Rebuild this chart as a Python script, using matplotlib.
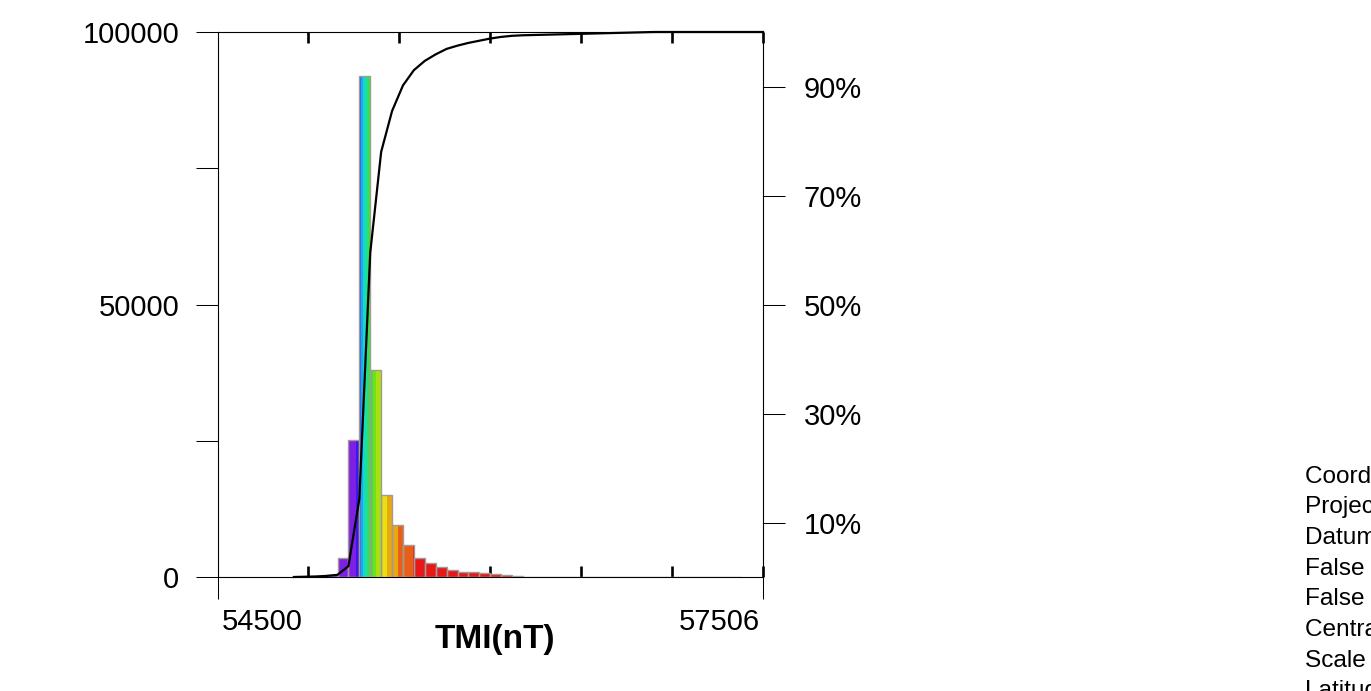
import numpy as np
import matplotlib
matplotlib.use("Agg")
import matplotlib.pyplot as plt
from matplotlib.colors import ListedColormap, BoundaryNorm
from matplotlib.transforms import ScaledTranslation

plt.rcParams['font.family'] = ['Liberation Sans', 'DejaVu Sans']

# histogram of TMI values (50 equal bins between the two limits)
x_min, x_max = 54500, 57506
n_bins = 50
counts = [0, 0, 0, 0, 0, 0, 0, 20, 40, 80,
          350, 3400, 25200, 92000, 38000, 15100, 9500, 5900, 3400, 2500,
          1900, 1300, 1000, 850, 720, 600, 420, 150, 15, 15,
          15, 15, 15, 90, 90, 85, 85, 80, 80, 75,
          75, 70, 70, 65, 65, 60, 60, 55, 0, 0]

# cumulative percentage read at bin edges 7..50
cdf_start = 7
cdf_pct = [0, 0.05, 0.1, 0.2, 0.4, 2.0, 14.3, 59.5, 78.0, 85.5,
           90.2, 93.0, 94.7, 95.9, 96.9, 97.5, 98.0, 98.4, 98.8, 99.1,
           99.3, 99.4, 99.45, 99.5, 99.55, 99.6, 99.65, 99.7, 99.75, 99.8,
           99.85, 99.9, 99.95, 100, 100, 100, 100, 100, 100, 100,
           100, 100, 100, 100]

left_ticks = [0, 25000, 50000, 75000, 100000]
left_labels = ['0', '', '50000', '', '100000']
pct_ticks = [10, 30, 50, 70, 90]
inner_ticks = [55001, 55502, 56003, 56504, 57005, 57506]

info_lines = ['Coordinate System', 'Projection', 'Datum', 'False Easting',
              'False Northing', 'Central Meridian', 'Scale Factor',
              'Latitude Of Origin']

# stepped rainbow colour scale along TMI
band_edges = [54500, 55262, 55282, 55291, 55303, 55315, 55330, 55357,
              55375, 55402, 55432, 55492, 55576, 57506]
band_colors = ['#7d1fe4', '#3c18ea', '#2a5cf0', '#1ca8f0', '#10d8d8',
               '#20e08c', '#38e048', '#70e018', '#a8e010', '#e8e010',
               '#e8a810', '#e86018', '#e81818']
cmap = ListedColormap(band_colors)
norm = BoundaryNorm(band_edges, cmap.N)

edges = np.linspace(x_min, x_max, n_bins + 1)
bw = (x_max - x_min) / n_bins

fig = plt.figure(figsize=(13.71, 6.91), dpi=100)
ax = fig.add_axes([217.5 / 1371, 114 / 691, 545.5 / 1371, 545 / 691])

sub = 16
for i, c in enumerate(counts):
    if c <= 0:
        continue
    xs = edges[i] + bw * np.arange(sub) / sub
    ax.bar(xs, c, width=bw / sub, align='edge',
           color=cmap(norm(xs + bw / sub / 2)), linewidth=0,
           antialiased=False, zorder=3)
nz = [i for i, c in enumerate(counts) if c > 0]
ax.bar(edges[nz], [counts[i] for i in nz], width=bw, align='edge',
       fill=False, edgecolor='#a39a98', linewidth=1.0, zorder=3)

ax.set_xlim(x_min, x_max)
ax.set_ylim(0, 100000)
for s in ax.spines.values():
    s.set_linewidth(0.8)

ax.set_yticks(left_ticks, left_labels)
ax.tick_params(axis='y', direction='out', length=15.5, width=0.75,
               pad=12, labelsize=21)
ax.set_xticks([x_min, x_max], ['54500', '57506'])
ax.tick_params(axis='x', which='major', direction='out', length=15.5,
               width=0.75, pad=7, labelsize=21)
ax.xaxis.remove_overlapping_locs = False
ax.set_xticks(inner_ticks, minor=True)
ax.tick_params(axis='x', which='minor', direction='in', length=8,
               width=1.9, top=True, bottom=True)
t0, t1 = ax.xaxis.get_major_ticks()[:2]
t0.label1.set_horizontalalignment('left')
t1.label1.set_horizontalalignment('right')
t0.label1.set_transform(t0.label1.get_transform()
                        + ScaledTranslation(4 / 100, 0, fig.dpi_scale_trans))
t1.label1.set_transform(t1.label1.get_transform()
                        + ScaledTranslation(-3 / 100, 0, fig.dpi_scale_trans))
ax.set_xlabel('TMI(nT)', fontsize=24, fontweight='bold', labelpad=-9)
ax.xaxis.label.set_x(0.5 + 5 / 545.5)

ax2 = ax.twinx()
ax2.set_ylim(0, 100)
for s in ax2.spines.values():
    s.set_visible(False)
ax2.plot(edges[cdf_start:], cdf_pct, color='black', linewidth=1.6,
         zorder=4, clip_on=False)
ax2.set_yticks(pct_ticks, [f'{p}%' for p in pct_ticks])
ax2.tick_params(axis='y', direction='out', length=15.5, width=0.75,
                pad=14, labelsize=21)

for i, line in enumerate(info_lines):
    fig.text(1305 / 1371, 1 - (482.5 + 30.7 * i) / 691, line,
             fontsize=17.6, va='baseline', ha='left')

fig.savefig('out.png', dpi=100)
